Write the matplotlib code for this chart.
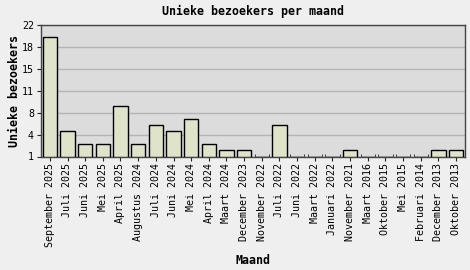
import matplotlib.pyplot as plt
import numpy as np

# Maanden en aantallen unieke bezoekers
months = [
    "September 2025", "Juli 2025", "Juni 2025", "Mei 2025", "April 2025",
    "Augustus 2024", "Juli 2024", "Juni 2024", "Mei 2024", "April 2024",
    "Maart 2024", "December 2023", "November 2022", "Juli 2022", "Juni 2022",
    "Maart 2022", "Januari 2022", "November 2021", "Maart 2016",
    "Oktober 2015", "Mei 2015", "Februari 2014", "December 2013",
    "Oktober 2013",
]
visitors = [20, 5, 3, 3, 9, 3, 6, 5, 7, 3, 2, 2, 1, 6, 1, 1, 1, 2, 1, 1, 1, 1, 2, 2]

ytick_values = [1, 4.5, 8, 11.5, 15, 18.5, 22]
ytick_labels = ["1", "4", "8", "11", "15", "18", "22"]

plt.rcParams["font.family"] = ["DejaVu Sans Mono"]

fig = plt.figure(figsize=(4.7, 2.7), dpi=100, facecolor="#efefef")
ax = fig.add_axes([41 / 470, 1 - 156.5 / 270, 424 / 470, 131.8 / 270])
ax.set_facecolor("#dcdcdc")

x = np.arange(len(months))
heights = [v - 1 for v in visitors]
ax.bar(x, heights, bottom=1, width=0.8, color="#dfe3c9", edgecolor="black",
       linewidth=1, zorder=3)

ax.set_xlim(-0.5, len(months) - 0.5)
ax.set_ylim(1, 22)
ax.set_yticks(ytick_values)
ax.set_yticklabels(ytick_labels, fontsize=7.2)
ax.set_xticks(x)
ax.set_xticklabels(months, rotation=90, fontsize=7.2)
ax.set_xticks(np.concatenate([x - 0.4, x + 0.4]), minor=True)
ax.tick_params(axis="x", which="minor", direction="in", length=2, color="#222")
ax.tick_params(axis="both", which="major", length=3, width=0.8, pad=2,
               color="#222")

ax.yaxis.grid(True, color="#b4b4b4", linewidth=1, zorder=0)
ax.set_axisbelow(True)
for s in ax.spines.values():
    s.set_color("#444444")
    s.set_linewidth(1)

ax.set_title("Unieke bezoekers per maand", fontsize=8.4, fontweight="bold",
             pad=7)
ax.set_ylabel("Unieke bezoekers", fontsize=8.4, fontweight="bold", labelpad=1)
ax.set_xlabel("Maand", fontsize=8.4, fontweight="bold", labelpad=5)

fig.savefig("out.png", dpi=100, facecolor=fig.get_facecolor())
